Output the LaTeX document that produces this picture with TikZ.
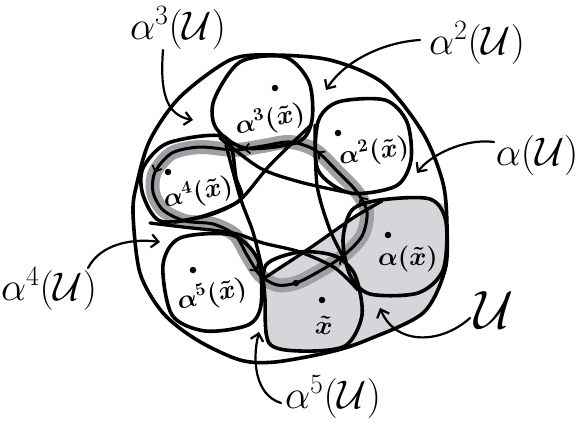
\RequirePackage{fix-cm}
\documentclass[tikz,border=0pt]{standalone}
\usepackage{amsmath}
\usetikzlibrary{arrows.meta,decorations.markings}
\definecolor{halogray}{RGB}{160,160,164}
\definecolor{ugray}{RGB}{214,214,218}
\begin{document}
\begin{tikzpicture}[x=1pt,y=-1pt,line cap=round,line join=round,
  edge/.style={line width=3.6pt},
  chordline/.style={line width=3.3pt},
  loopline/.style={line width=3pt},
  halo/.style={line width=14pt,draw=halogray},
  lbl/.style={font=\fontsize{40}{40}\selectfont,inner sep=0pt},
  ilbl/.style={font=\fontsize{26}{26}\selectfont\boldmath,inner sep=0pt},
  pointer/.style={line width=2.2pt,-{Straight Barb[length=7pt,width=13pt,line width=2.2pt]}},
  ptdot/.style={circle,fill=black,inner sep=0pt,minimum size=6.5pt},
  looparrows/.style={decoration={markings,
     mark=at position 0.05 with {\arrow{Straight Barb[length=5pt,width=10pt,line width=1.8pt]}},
     mark=at position 0.175 with {\arrow{Straight Barb[length=5pt,width=10pt,line width=1.8pt]}},
     mark=at position 0.285 with {\arrow{Straight Barb[length=5pt,width=10pt,line width=1.8pt]}},
     mark=at position 0.42 with {\arrow{Straight Barb[length=5pt,width=10pt,line width=1.8pt]}},
     mark=at position 0.595 with {\arrow{Straight Barb[length=5pt,width=10pt,line width=1.8pt]}},
     mark=at position 0.88 with {\arrow{Straight Barb[length=5pt,width=10pt,line width=1.8pt]}}},
     postaction={decorate}}
]
\useasboundingbox (0,0) rectangle (581,426);

% gray region U, clipped to the big circle
\begin{scope}
\clip plot[smooth cycle] coordinates {(270,55) (330,60) (383,83) (423,133) (443,183) (447,227) (445,270) (423,313) (367,340) (330,352) (275,362) (240,360) (197,340) (163,313) (140,273) (133,213) (137,183) (150,140) (180,97) (230,60)};
\fill[ugray] plot[smooth cycle,tension=0.4] coordinates {(266,276) (265,310) (270,342) (300,352) (332,356) (390,372) (470,330) (475,220) (446,205) (410,196) (378,201) (350,218) (310,247)};
\end{scope}

% halo of the loop
\draw[halo] plot[smooth cycle] coordinates {(296,283) (318,272) (343,256) (362,236) (367,212) (357,192) (338,172) (315,150) (290,142) (263,146) (235,150) (200,147) (172,153) (155,172) (153,192) (163,210) (185,221) (213,224) (235,235) (247,255) (260,275) (277,285)};

% big circle
\draw[edge] plot[smooth cycle] coordinates {(270,55) (330,60) (383,83) (423,133) (443,183) (447,227) (445,270) (423,313) (367,340) (330,352) (275,362) (240,360) (197,340) (163,313) (140,273) (133,213) (137,183) (150,140) (180,97) (230,60)};

% blobs
\draw[edge] plot[smooth cycle] coordinates {(266,265) (300,252) (335,256) (355,275) (362,315) (345,346) (300,351) (269,343) (265,300)};
\draw[edge] plot[smooth cycle] coordinates {(352,210) (380,200) (430,199) (446,222) (443,270) (418,293) (370,294) (350,275) (343,240)};
\draw[edge] plot[smooth cycle] coordinates {(318,122) (338,102) (385,100) (407,122) (411,160) (396,186) (350,193) (318,170)};
\draw[edge] plot[smooth cycle] coordinates {(214,100) (240,62) (285,57) (309,82) (312,120) (298,142) (245,148) (216,128)};
\draw[edge] plot[smooth cycle] coordinates {(143,168) (168,143) (225,137) (236,178) (240,200) (200,217) (160,221) (143,195)};
\draw[edge] plot[smooth cycle] coordinates {(163,265) (180,238) (232,235) (258,260) (261,305) (248,325) (205,331) (172,315)};

% inner chords of the translates of U
\draw[chordline] plot[smooth] coordinates {(266,277) (310,248) (353,218) (382,201)};
\draw[chordline] plot[smooth] coordinates {(315,125) (317,185) (330,230) (346,262)};
\draw[chordline] plot[smooth] coordinates {(220,138) (260,168) (300,182) (345,192)};
\draw[chordline] plot[smooth] coordinates {(311,125) (270,165) (240,200) (210,215) (175,222)};
\draw[chordline] plot[smooth] coordinates {(226,145) (240,197) (253,232) (262,268)};
\draw[chordline] plot[smooth] coordinates {(150,223) (183,227) (233,233) (263,243) (300,252) (335,268) (358,290)};

% the loop
\draw[loopline,looparrows] plot[smooth cycle] coordinates {(296,283) (318,272) (343,256) (362,236) (367,212) (357,192) (338,172) (315,150) (290,142) (263,146) (235,150) (200,147) (172,153) (155,172) (153,192) (163,210) (185,221) (213,224) (235,235) (247,255) (260,275) (277,285)};

% points
\node[ptdot] (p0) at (322,300) {};
\node[ptdot] (p1) at (388,235) {};
\node[ptdot] (p2) at (338,133) {};
\node[ptdot] (p3) at (275,88) {};
\node[ptdot] (p4) at (168,172) {};
\node[ptdot] (p5) at (193,270) {};
\node[ptdot] (pl) at (296,283) {};

% inner labels
\node[ilbl,rotate=-6] (t0) at (324,325) {$\tilde{x}$};
\node[ilbl] (t1) at (408,259) {$\alpha(\tilde{x})$};
\node[ilbl,rotate=8] (t2) at (374,152) {$\alpha^2(\tilde{x})$};
\node[ilbl,rotate=12] (t3) at (270,120) {$\alpha^3(\tilde{x})$};
\node[ilbl,rotate=12] (t4) at (198,193) {$\alpha^4(\tilde{x})$};
\node[ilbl,rotate=12] (t5) at (212,295) {$\alpha^5(\tilde{x})$};

% outer labels
\node[lbl] (L3) at (178,28) {$\alpha^3(\mathcal{U})$};
\node[lbl] (L2) at (477,43) {$\alpha^2(\mathcal{U})$};
\node[lbl] (L1) at (537,155) {$\alpha(\mathcal{U})$};
\node[lbl] (L4) at (49,289) {$\alpha^4(\mathcal{U})$};
\node[lbl,font=\fontsize{54}{54}\selectfont] (L0) at (494,310) {$\mathcal{U}$};
\node[lbl] (L5) at (333,397) {$\alpha^5(\mathcal{U})$};

% pointer ends
\coordinate (s3) at (163,50);  \coordinate (e3) at (193,120);
\coordinate (s2) at (420,40);  \coordinate (e2) at (326,90);
\coordinate (s1) at (494,142); \coordinate (e1) at (417,173);
\coordinate (s4) at (88,268);  \coordinate (e4) at (160,242);
\coordinate (s0) at (470,318); \coordinate (e0) at (380,308);
\coordinate (s5) at (281,403); \coordinate (e5) at (259,332);

\draw[pointer] (s3) .. controls (160,90) and (165,115) .. (e3);
\draw[pointer] (s2) .. controls (385,42) and (345,60) .. (e2);
\draw[pointer] (s1) .. controls (465,138) and (430,155) .. (e1);
\draw[pointer] (s4) .. controls (100,245) and (130,238) .. (e4);
\draw[pointer] (s0) .. controls (440,345) and (395,345) .. (e0);
\draw[pointer] (s5) .. controls (255,395) and (252,360) .. (e5);
\end{tikzpicture}
\end{document}
